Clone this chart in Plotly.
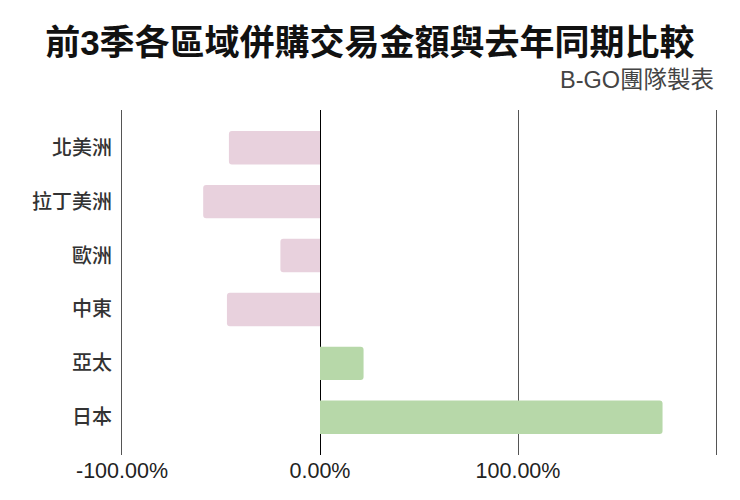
import plotly.graph_objects as go

regions = ["北美洲", "拉丁美洲", "歐洲", "中東", "亞太", "日本"]
changes = [-0.46, -0.59, -0.20, -0.47, 0.22, 1.73]
tick_values = [-1, 0, 1, 2]
tick_labels = ["-100.00%", "0.00%", "100.00%", ""]

colors = ["#e8d1dd" if v < 0 else "#b7d8a9" for v in changes]

fig = go.Figure(go.Bar(
    y=regions, x=changes, orientation="h",
    marker=dict(color=colors, line=dict(width=0), cornerradius=3),
    width=0.62,
))

# page body has an 8px margin; margins below compensate for it
font_family = "Liberation Sans, Noto Sans CJK TC, sans-serif"
fig.update_layout(
    width=740, height=500,
    paper_bgcolor="white", plot_bgcolor="white",
    margin=dict(l=114, r=32, t=102, b=53, autoexpand=False),
    font=dict(family=font_family, color="#333"),
    showlegend=False,
    title=dict(text="<b>前3季各區域併購交易金額與去年同期比較</b>",
               x=0.489, xanchor="center", y=0.93, yanchor="middle",
               font=dict(size=35, color="#111", family=font_family)),
    annotations=[dict(text="B-GO團隊製表", xref="paper", yref="paper",
                      x=1.0, y=1.0, xanchor="right", yanchor="bottom", yshift=15,
                      showarrow=False, font=dict(size=23.5, color="#444"))],
)
fig.update_xaxes(range=[-1, 2], tickvals=tick_values, ticktext=tick_labels,
                 showgrid=True, gridcolor="#555", gridwidth=1,
                 zeroline=True, zerolinecolor="#000", zerolinewidth=1,
                 tickfont=dict(size=21.5, color="#222"), ticks="", showline=False,
                 automargin=False)
fig.update_yaxes(categoryorder="array", categoryarray=regions, autorange=False,
                 range=[5.7, -0.7], showgrid=False, ticks="", ticklabelstandoff=5,
                 showline=True, mirror=True, linecolor="#555", linewidth=1,
                 tickfont=dict(size=20, color="#333", weight=500), automargin=False)
fig.write_html("out.html")
